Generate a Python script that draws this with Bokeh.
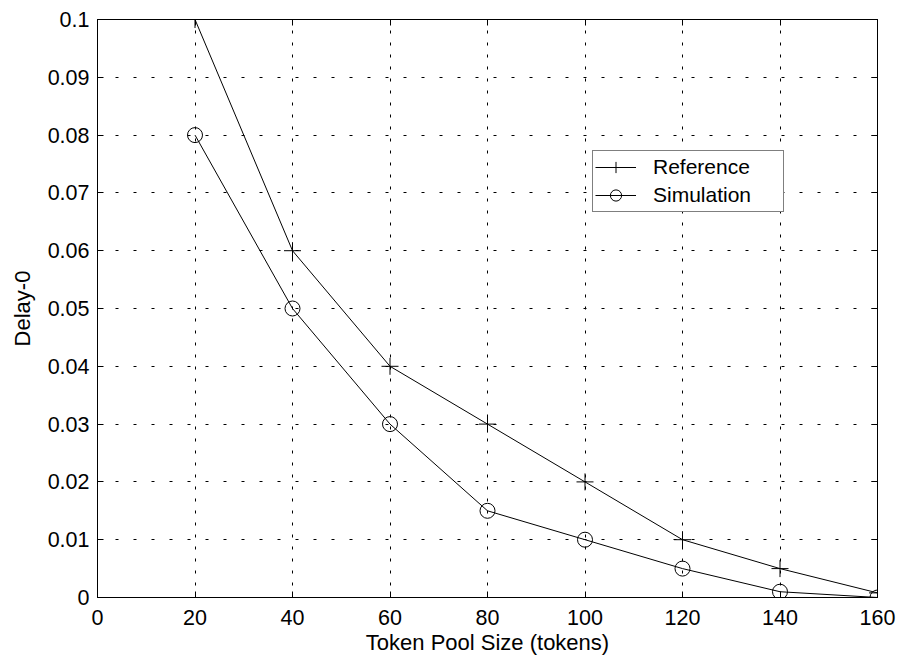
from bokeh.plotting import figure
from bokeh.models import (LinearAxis, FixedTicker, CustomJSTickFormatter,
                          Legend, LegendItem, Range1d)
from bokeh.embed import file_html
from bokeh.resources import INLINE

# Token pool size (tokens)
pool_size = [20, 40, 60, 80, 100, 120, 140, 160]
# Delay-0 values
reference = [0.1, 0.06, 0.04, 0.03, 0.02, 0.01, 0.005, 0.0008]
simulation = [0.08, 0.05, 0.03, 0.015, 0.01, 0.005, 0.001, 0.0]

x_ticks = [0, 20, 40, 60, 80, 100, 120, 140, 160]
y_ticks = [0, 0.01, 0.02, 0.03, 0.04, 0.05, 0.06, 0.07, 0.08, 0.09, 0.1]
y_tick_labels = ["0", "0.01", "0.02", "0.03", "0.04", "0.05",
                 "0.06", "0.07", "0.08", "0.09", "0.1"]

FONT = "Liberation Sans"

p = figure(width=901, height=660, output_backend="svg", toolbar_location=None,
           x_range=Range1d(0, 160), y_range=Range1d(0, 0.1),
           min_border_left=97, min_border_right=24,
           min_border_top=19, min_border_bottom=63)
p.background_fill_color = "white"
p.border_fill_color = "white"
p.outline_line_color = "black"
p.outline_line_width = 1

y_fmt = CustomJSTickFormatter(
    args=dict(yvals=y_ticks, ylabels=y_tick_labels),
    code="const i = yvals.findIndex(t => Math.abs(t - tick) < 1e-9); return i >= 0 ? ylabels[i] : '';")
blank_fmt = CustomJSTickFormatter(code="return '';")


def style_axis(ax, ticks, show_labels):
    ax.ticker = FixedTicker(ticks=ticks)
    ax.axis_line_color = "black"
    ax.axis_line_width = 1
    ax.major_tick_line_color = "black"
    ax.major_tick_in = 6
    ax.major_tick_out = 0
    ax.minor_tick_line_color = None
    ax.major_label_text_font = FONT
    ax.major_label_text_color = "black"
    ax.axis_label_text_font = FONT
    ax.axis_label_text_font_style = "normal"
    ax.axis_label_text_color = "black"
    if not show_labels:
        # box ticks only: no labels on the top and right edges
        ax.formatter = blank_fmt
        ax.major_label_text_font_size = "10px"
        ax.major_label_standoff = 0
    else:
        ax.major_label_text_font_size = "21.5px"
        ax.axis_label_text_font_size = "22px"


xa = p.xaxis[0]
style_axis(xa, x_ticks, True)
xa.axis_label = "Token Pool Size (tokens)"
xa.major_label_standoff = 12
xa.axis_label_standoff = 2

ya = p.yaxis[0]
style_axis(ya, y_ticks, True)
ya.formatter = y_fmt
ya.axis_label = "Delay-0"
ya.major_label_standoff = 8
ya.axis_label_standoff = 10

top_axis = LinearAxis()
style_axis(top_axis, x_ticks, False)
p.add_layout(top_axis, "above")

right_axis = LinearAxis()
style_axis(right_axis, y_ticks, False)
p.add_layout(right_axis, "right")

# dotted grid
p.xgrid.ticker = FixedTicker(ticks=x_ticks)
p.ygrid.ticker = FixedTicker(ticks=y_ticks)
p.xgrid.grid_line_color = "black"
p.ygrid.grid_line_color = "black"
p.xgrid.grid_line_dash = "3 9"
p.ygrid.grid_line_dash = "3 15"
p.xgrid.grid_line_width = 1
p.ygrid.grid_line_width = 1

# series
ref_line = p.line(pool_size, reference, line_color="black", line_width=1)
ref_pts = p.scatter(pool_size, reference, marker="cross", size=17,
                    line_color="black", line_width=1)
sim_line = p.line(pool_size, simulation, line_color="black", line_width=1)
sim_pts = p.scatter(pool_size, simulation, marker="circle", size=15,
                    line_color="black", line_width=1, fill_alpha=0)

# tall glyph boxes give larger legend markers
legend = Legend(items=[
    LegendItem(label="Reference", renderers=[ref_line, ref_pts]),
    LegendItem(label="Simulation", renderers=[sim_line, sim_pts]),
], location=(495, 385))
legend.border_line_color = "black"
legend.border_line_width = 1
legend.background_fill_color = "white"
legend.background_fill_alpha = 1
legend.label_text_font = FONT
legend.label_text_font_size = "21px"
legend.label_text_color = "black"
legend.glyph_width = 41
legend.glyph_height = 28
legend.label_height = 20
legend.label_width = 128
legend.label_standoff = 17
legend.padding = 2
legend.spacing = 0
legend.margin = 0
p.add_layout(legend, "center")

open("out.html", "w").write(file_html(p, INLINE))
